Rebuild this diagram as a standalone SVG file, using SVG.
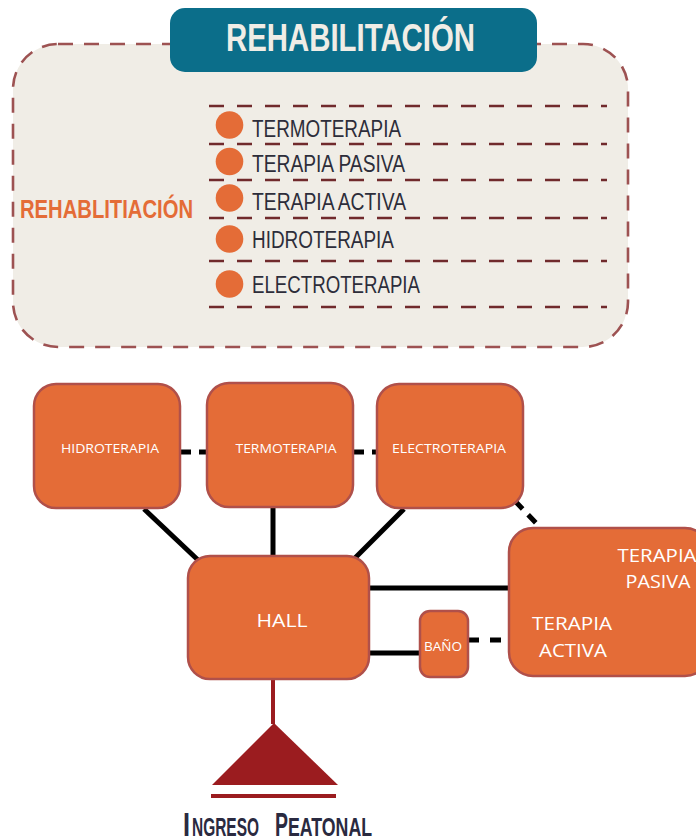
<svg xmlns="http://www.w3.org/2000/svg" width="696" height="838" viewBox="0 0 696 838">
<style>
.panel{fill:#f0ede6;stroke:#9d5252;stroke-width:2.6;stroke-dasharray:15 11}
.row{stroke:#702a2c;stroke-width:2.4;stroke-dasharray:15 13}
.dot{fill:#e46c37}
.item{font-family:"Liberation Sans Narrow","Liberation Sans",sans-serif;font-size:23px;fill:#2d2d3a}
.node{fill:#e46c37;stroke:#b0504a;stroke-width:2.5}
.nt{font-family:"Open Sans","Liberation Sans",sans-serif;fill:#ffffff;text-anchor:middle}
.solid{stroke:#000;stroke-width:5;fill:none}
.dash{stroke:#000;stroke-width:5;fill:none;stroke-dasharray:11 8}
.cond{font-family:"Liberation Sans Narrow","Liberation Sans",sans-serif;font-weight:bold}
</style>
<g id="panel">
<rect class="panel" x="13" y="44" width="615" height="303" rx="45"/>
<rect x="170" y="8" width="367" height="64" rx="15" fill="#0b6e8a"/>
<text class="cond" x="226" y="51" font-size="38" fill="#f0ede6" textLength="249" lengthAdjust="spacingAndGlyphs">REHABILITACIÓN</text>
<text class="cond" x="20" y="218" font-size="25" fill="#e46c37" textLength="173" lengthAdjust="spacingAndGlyphs">REHABLITIACIÓN</text>
<line class="row" x1="209" y1="106" x2="607" y2="106"/>
<line class="row" x1="209" y1="144" x2="607" y2="144"/>
<line class="row" x1="209" y1="180" x2="607" y2="180"/>
<line class="row" x1="209" y1="218" x2="607" y2="218"/>
<line class="row" x1="209" y1="261" x2="607" y2="261"/>
<line class="row" x1="209" y1="307" x2="607" y2="307"/>
<circle class="dot" cx="229.5" cy="125" r="13.8"/>
<circle class="dot" cx="229.5" cy="161.5" r="13.8"/>
<circle class="dot" cx="229.5" cy="198" r="13.8"/>
<circle class="dot" cx="229.5" cy="239" r="13.8"/>
<circle class="dot" cx="229.5" cy="284" r="13.8"/>
<text class="item" x="252" y="137" textLength="149" lengthAdjust="spacingAndGlyphs">TERMOTERAPIA</text>
<text class="item" x="252" y="172" textLength="153" lengthAdjust="spacingAndGlyphs">TERAPIA PASIVA</text>
<text class="item" x="252" y="210" textLength="154" lengthAdjust="spacingAndGlyphs">TERAPIA ACTIVA</text>
<text class="item" x="252" y="248" textLength="142" lengthAdjust="spacingAndGlyphs">HIDROTERAPIA</text>
<text class="item" x="252" y="293" textLength="168" lengthAdjust="spacingAndGlyphs">ELECTROTERAPIA</text>
</g>
<g id="connectors">
<line class="dash" x1="180" y1="452" x2="207" y2="452"/>
<line class="dash" x1="353" y1="452" x2="377" y2="452"/>
<line class="solid" x1="144" y1="509" x2="198" y2="560"/>
<line class="solid" x1="273" y1="507" x2="273" y2="556"/>
<line class="solid" x1="404" y1="509" x2="353" y2="560"/>
<line class="dash" x1="515" y1="501" x2="538" y2="525"/>
<line class="solid" x1="369" y1="588" x2="509" y2="588"/>
<line class="solid" x1="369" y1="653" x2="420" y2="653"/>
<line x1="468" y1="640" x2="509" y2="640" stroke="#000" stroke-width="5" stroke-dasharray="11 11"/>
<line x1="273" y1="680" x2="273" y2="724" stroke="#9b1c1f" stroke-width="4"/>
</g>
<g id="hidroterapia">
<rect class="node" x="34" y="384" width="146" height="124" rx="22"/>
<text class="nt" x="110" y="453" font-size="12.5" textLength="98" lengthAdjust="spacingAndGlyphs">HIDROTERAPIA</text>
</g>
<g id="termoterapia">
<rect class="node" x="207" y="383" width="146" height="124" rx="22"/>
<text class="nt" x="286" y="453" font-size="12.5" textLength="101" lengthAdjust="spacingAndGlyphs">TERMOTERAPIA</text>
</g>
<g id="electroterapia">
<rect class="node" x="377" y="384" width="146" height="124" rx="22"/>
<text class="nt" x="449" y="453" font-size="12.5" textLength="114" lengthAdjust="spacingAndGlyphs">ELECTROTERAPIA</text>
</g>
<g id="hall">
<rect class="node" x="188" y="556" width="181" height="123" rx="22"/>
<text class="nt" x="282" y="627" font-size="19" textLength="51" lengthAdjust="spacingAndGlyphs">HALL</text>
</g>
<g id="bano">
<rect class="node" x="420" y="611" width="48" height="66" rx="10"/>
<text class="nt" x="443" y="651" font-size="12" textLength="38" lengthAdjust="spacingAndGlyphs">BAÑO</text>
</g>
<g id="terapia">
<rect class="node" x="509" y="528" width="200" height="148" rx="24"/>
<text class="nt" x="657" y="562" font-size="19" textLength="79" lengthAdjust="spacingAndGlyphs">TERAPIA</text>
<text class="nt" x="658" y="588" font-size="19" textLength="65" lengthAdjust="spacingAndGlyphs">PASIVA</text>
<text class="nt" x="572" y="630" font-size="19" textLength="80" lengthAdjust="spacingAndGlyphs">TERAPIA</text>
<text class="nt" x="573" y="657" font-size="19" textLength="68" lengthAdjust="spacingAndGlyphs">ACTIVA</text>
</g>
<g id="ingreso">
<polygon points="274,723 212,785 338,785" fill="#9b1c1f"/>
<line x1="211" y1="796" x2="336" y2="796" stroke="#9b1c1f" stroke-width="4"/>
<text class="cond" y="836" fill="#2a2a40"><tspan x="183" font-size="33" textLength="7" lengthAdjust="spacingAndGlyphs">I</tspan><tspan x="192" font-size="26" textLength="67" lengthAdjust="spacingAndGlyphs">NGRESO</tspan><tspan x="275" font-size="33" textLength="13" lengthAdjust="spacingAndGlyphs">P</tspan><tspan x="288" font-size="26" textLength="84" lengthAdjust="spacingAndGlyphs">EATONAL</tspan></text>
</g>
</svg>
